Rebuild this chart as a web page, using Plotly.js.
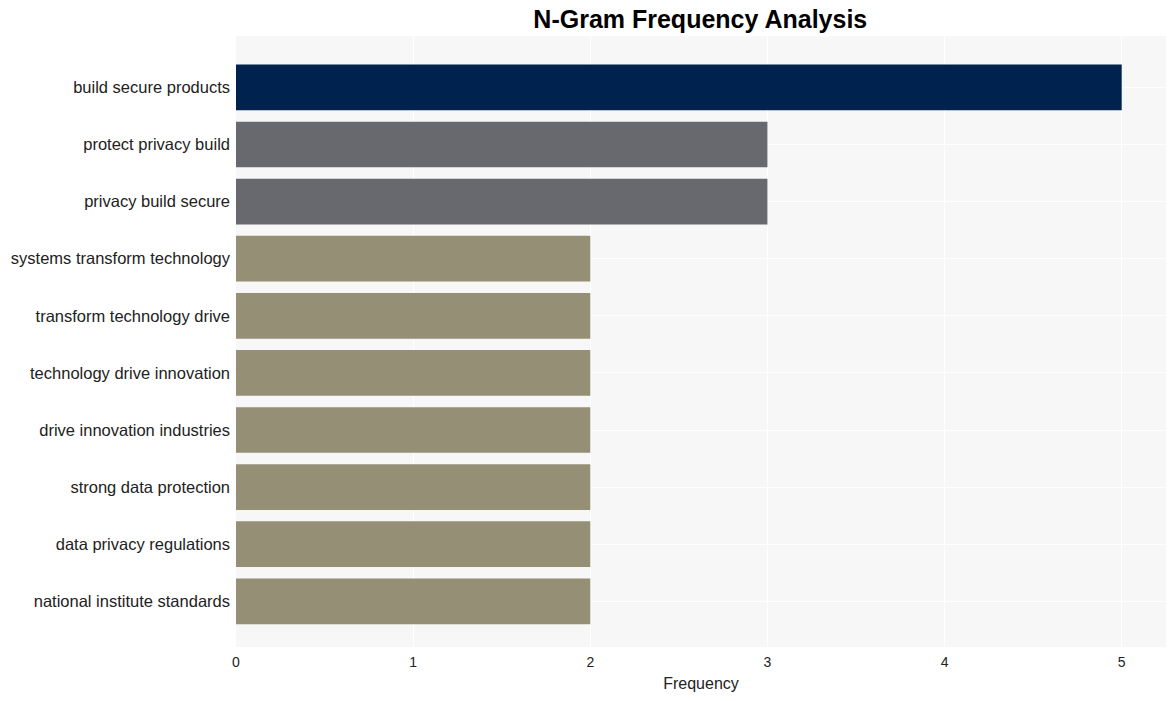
<!DOCTYPE html>
<html>
<head>
<meta charset="utf-8">
<script src="https://cdn.plot.ly/plotly-3.0.1.min.js"></script>
<style>html,body{margin:0;padding:0;background:#fff;}#chart{width:1175px;height:701px;}</style>
</head>
<body>
<div id="chart"></div>
<script>
const ngrams = [
  "build secure products",
  "protect privacy build",
  "privacy build secure",
  "systems transform technology",
  "transform technology drive",
  "technology drive innovation",
  "drive innovation industries",
  "strong data protection",
  "data privacy regulations",
  "national institute standards"
];
const frequencies = [5, 3, 3, 2, 2, 2, 2, 2, 2, 2];
const barColors = ["#00224e", "#67696f", "#67696f", "#958f76", "#958f76", "#958f76", "#958f76", "#958f76", "#958f76", "#958f76"];

const yCats = ngrams.slice().reverse();
const xVals = frequencies.slice().reverse();
const cols = barColors.slice().reverse();

const trace = {
  type: "bar",
  orientation: "h",
  x: xVals,
  y: yCats,
  marker: {color: cols},
  hoverinfo: "x+y"
};

const layout = {
  width: 1175,
  height: 701,
  margin: {l: 236, r: 9, t: 36, b: 54},
  paper_bgcolor: "#ffffff",
  plot_bgcolor: "#f7f7f7",
  bargap: 0.2,
  showlegend: false,
  font: {family: "Liberation Sans, Arial, sans-serif", color: "#222222"},
  title: {
    text: "<b>N-Gram Frequency Analysis</b>",
    x: 0.596, xanchor: "center",
    y: 0.972, yanchor: "middle",
    font: {size: 25, color: "#000000", family: "Liberation Sans, Arial, sans-serif"}
  },
  xaxis: {
    range: [0, 5.25],
    tickvals: [0, 1, 2, 3, 4, 5],
    showgrid: true,
    gridcolor: "#ffffff",
    gridwidth: 1,
    zeroline: false,
    tickfont: {size: 14, color: "#222222"},
    ticks: "",
    ticklabelstandoff: 5,
    title: {text: "Frequency", font: {size: 16, color: "#222222"}, standoff: 8}
  },
  yaxis: {
    type: "category",
    range: [-0.8, 9.9],
    showgrid: true,
    gridcolor: "#ffffff",
    gridwidth: 1,
    tickfont: {size: 16.5, color: "#222222"},
    ticks: "",
    ticklabelstandoff: 5
  }
};

Plotly.newPlot("chart", [trace], layout, {displayModeBar: false, staticPlot: true});
</script>
</body>
</html>
